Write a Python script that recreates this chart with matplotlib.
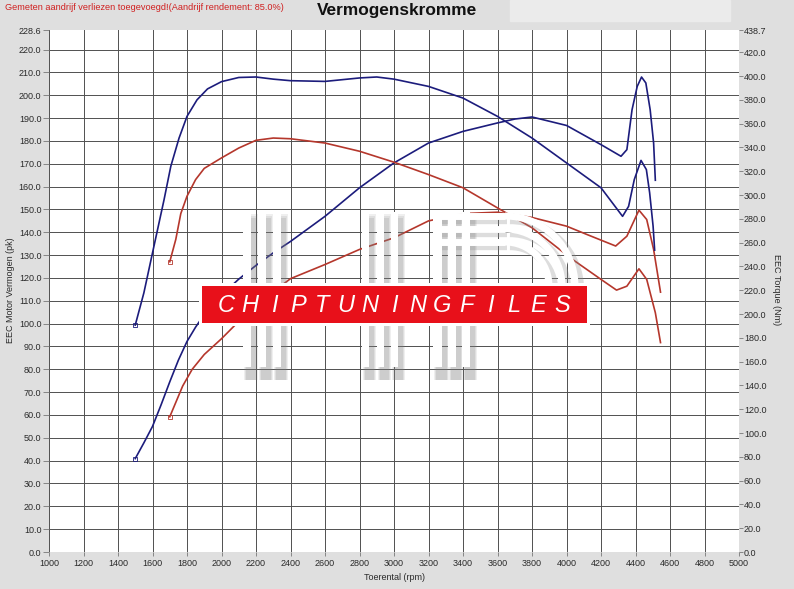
import numpy as np
import matplotlib.pyplot as plt
from matplotlib.patches import Rectangle, Arc

plt.rcParams['font.family'] = ['Liberation Sans', 'DejaVu Sans']

# tuned (blue) power in pk
rpm_pow_tuned = [1500, 1550, 1600, 1650, 1700, 1750, 1800, 1850, 1900, 2000, 2100, 2200,
                 2300, 2400, 2600, 2800, 3000, 3200, 3400, 3600, 3700, 3800, 4000, 4200,
                 4316, 4350, 4380, 4410, 4435, 4460, 4485, 4505, 4515]
pow_tuned = [40.9, 47.8, 55.0, 64.5, 74.5, 84.0, 92.2, 98.5, 104.0, 112.5, 119.5, 125.5,
             131.0, 136.0, 147.0, 159.5, 170.4, 179.1, 184.2, 187.9, 189.6, 190.5, 186.8, 178.4,
             173.3, 176.2, 193.7, 203.9, 208.0, 205.4, 193.7, 179.1, 162.8]

# tuned (blue) torque in Nm
rpm_tq_tuned = [1500, 1550, 1600, 1667, 1706, 1754, 1800, 1858, 1919, 2000, 2100, 2200,
                2300, 2400, 2600, 2800, 2900, 3000, 3200, 3400, 3600, 3800, 4000, 4200,
                4325, 4360, 4393, 4432, 4463, 4482, 4502, 4511]
tq_tuned = [190.7, 217.8, 251.4, 296.1, 324.1, 347.9, 366.1, 380.0, 389.2, 395.3, 398.8, 399.2,
            397.4, 396.1, 395.5, 398.4, 399.2, 397.4, 391.3, 381.5, 366.1, 347.9, 327.0, 306.1,
            282.1, 290.5, 313.0, 329.1, 321.4, 301.9, 273.8, 253.7]

# stock (red) power in pk
rpm_pow_stock = [1700, 1735, 1775, 1830, 1900, 2000, 2100, 2200, 2300, 2400, 2600, 2800,
                 3000, 3200, 3400, 3600, 3800, 4000, 4120, 4285, 4350, 4420, 4465, 4505, 4545]
pow_stock = [59.2, 65.5, 72.7, 80.0, 86.5, 93.4, 101.0, 108.4, 114.0, 119.7, 125.9, 132.5,
             137.6, 145.0, 148.2, 148.8, 146.5, 142.7, 139.0, 134.0, 138.3, 149.7, 145.6, 132.5, 113.8]

# stock (red) torque in Nm
rpm_tq_stock = [1700, 1735, 1764, 1800, 1850, 1900, 2000, 2100, 2200, 2300, 2400, 2600,
                2800, 3000, 3200, 3400, 3600, 3800, 3960, 4020, 4200, 4290, 4350, 4420,
                4465, 4515, 4545]
tq_stock = [243.9, 262.7, 284.4, 299.0, 313.0, 322.4, 331.2, 339.5, 346.0, 347.9, 347.3, 343.7,
            336.8, 327.6, 317.2, 306.1, 289.2, 272.5, 254.3, 247.4, 229.1, 220.1, 223.4, 238.0,
            229.1, 201.1, 176.0]

x_ticks = list(range(1000, 5001, 200))
pk_ticks = list(range(0, 221, 10)) + [228.6]
nm_ticks = list(range(0, 421, 20)) + [438.7]

BLUE = '#1c1c7c'
RED = '#b5372c'
TXT = '#2a2a2a'

fig = plt.figure(figsize=(7.94, 5.89), dpi=100, facecolor='#dfdfdf')
ax = fig.add_axes([49 / 794, 1 - 552 / 589, 690 / 794, 522 / 589])
ax.set_facecolor('white')
ax.set_xlim(1000, 5000)
ax.set_ylim(0, 228.6)
ax.set_xticks(x_ticks)
ax.set_xticklabels([str(v) for v in x_ticks])
ax.set_yticks(pk_ticks)
ax.set_yticklabels([f'{v:.1f}' for v in pk_ticks])
ax.grid(True, color='#505050', linewidth=0.7)
ygl = ax.get_ygridlines()
ygl[0].set_visible(False)
ygl[-1].set_visible(False)
ax.set_axisbelow(True)
for s in ax.spines.values():
    s.set_visible(False)
ax.tick_params(axis='y', direction='out', length=4.5, width=0.6, color='#777777',
               labelsize=6.5, labelcolor=TXT, pad=1)
ax.tick_params(axis='x', direction='out', length=3, width=0.6, color='#777777',
               labelsize=6.5, labelcolor=TXT, pad=2)

ax2 = ax.twinx()
ax2.set_ylim(0, 438.7)
ax2.set_yticks(nm_ticks)
ax2.set_yticklabels([f'{v:.1f}' for v in nm_ticks])
for s in ax2.spines.values():
    s.set_visible(False)
ax2.tick_params(axis='y', direction='out', length=3, width=0.6, color='#777777',
                labelsize=6.5, labelcolor=TXT, pad=0.5)

lw = 1.2
ax.plot(rpm_pow_tuned, pow_tuned, color=BLUE, lw=lw)
ax.plot(rpm_pow_stock, pow_stock, color=RED, lw=lw)
ax2.plot(rpm_tq_tuned, tq_tuned, color=BLUE, lw=lw)
ax2.plot(rpm_tq_stock, tq_stock, color=RED, lw=lw)
# start markers
ax.plot(rpm_pow_tuned[0], pow_tuned[0], 's', ms=2.5, mfc='none', mec=BLUE, mew=0.6)
ax.plot(rpm_pow_stock[0], pow_stock[0], 's', ms=2.5, mfc='none', mec=RED, mew=0.6)
ax2.plot(rpm_tq_tuned[0], tq_tuned[0], 's', ms=2.5, mfc='none', mec=BLUE, mew=0.6)
ax2.plot(rpm_tq_stock[0], tq_stock[0], 's', ms=2.5, mfc='none', mec=RED, mew=0.6)

# texts
fig.text(5 / 794, 1 - 7 / 589, 'Gemeten aandrijf verliezen toegevoegd!(Aandrijf rendement: 85.0%)',
         color='#d02020', fontsize=6.6, va='center', ha='left')
fig.text(397 / 794, 1 - 10 / 589, 'Vermogenskromme', fontsize=12.4, fontweight='bold',
         ha='center', va='center', color='#111111')
fig.text(394 / 794, 1 - 577 / 589, 'Toerental (rpm)', fontsize=6.5, ha='center', va='center', color=TXT)
fig.text(11 / 794, 1 - 290 / 589, 'EEC Motor Vermogen (pk)', fontsize=6.5, rotation=90,
         ha='center', va='center', color=TXT)
fig.text(776 / 794, 1 - 290 / 589, 'EEC Torque (Nm)', fontsize=6.5, rotation=-90,
         ha='center', va='center', color=TXT)

# overlay in pixel space for header patch and watermark
ov = fig.add_axes([0, 0, 1, 1], zorder=5)
ov.set_xlim(0, 794)
ov.set_ylim(589, 0)
ov.axis('off')
ov.patch.set_visible(False)
fig.patches.append(Rectangle((510 / 794, 1 - 21 / 589), 220 / 794, 21 / 589,
                             transform=fig.transFigure, color='#ebebeb', zorder=0))

bars = [(243, 251), (258, 266), (273, 281),
        (362, 369), (377, 384), (391, 398),
        (433, 442), (448, 456), (462, 470)]
# soft shadows
for k, a in ((6, 0.12), (4, 0.15), (2, 0.18)):
    for x0, x1 in bars:
        ov.add_patch(Rectangle((x0 + 4 - k / 2, 220 - k), x1 - x0 + k, 160 + k,
                               color='#808080', alpha=a, lw=0, zorder=1))
for x0, x1 in bars:
    ov.add_patch(Rectangle((x0, 212), x1 - x0, 155, color='white', lw=0, zorder=2))
# P-shape arcs
for r in (70, 57, 44):
    ov.plot([440, 507], [290 - r, 290 - r], color='#909090', lw=6, alpha=0.3,
            solid_capstyle='butt', zorder=1)
    ov.add_patch(Arc((510, 290), 2 * r, 2 * r, theta1=270, theta2=360,
                     color='#909090', lw=6, alpha=0.3, zorder=1))
for r in (70, 57, 44):
    ov.plot([437, 505], [286 - r, 286 - r], color='white', lw=5,
            solid_capstyle='butt', zorder=2)
    ov.add_patch(Arc((505, 286), 2 * r, 2 * r, theta1=270, theta2=360, color='white', lw=5, zorder=2))

# red banner
ov.add_patch(Rectangle((199, 283), 391, 43, color='white', lw=0, zorder=3))
ov.add_patch(Rectangle((202, 286), 385, 37, color='#e8101a', lw=0, zorder=4))
letters = 'CHIPTUNINGFILES'
xs = np.linspace(226, 562, len(letters))
for ch, xc in zip(letters, xs):
    ov.text(xc, 305, ch, color='white', fontsize=17, fontstyle='italic',
            ha='center', va='center', zorder=5)

fig.savefig('out.png', dpi=100, facecolor=fig.get_facecolor())
